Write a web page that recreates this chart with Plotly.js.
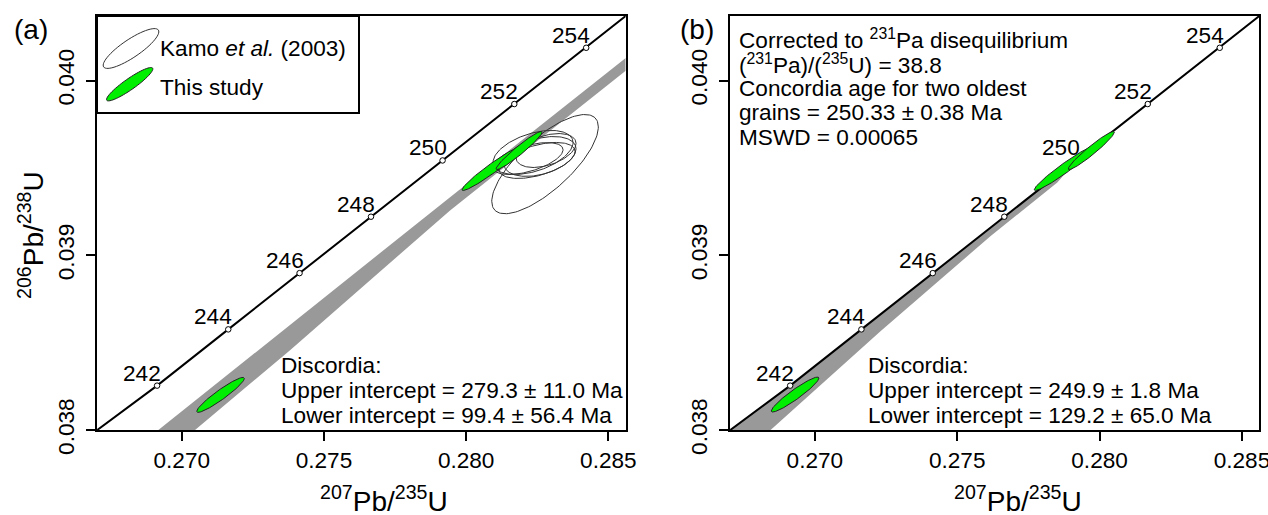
<!DOCTYPE html>
<html>
<head>
<meta charset="utf-8">
<script src="https://cdn.plot.ly/plotly-3.0.1.min.js"></script>
<style>html,body{margin:0;padding:0;background:#fff;}#chart{width:1268px;height:515px;}</style>
</head>
<body>
<div id="chart"></div>
<script>
// ---------------- DATA ----------------
const ages = [242, 244, 246, 248, 250, 252, 254];
const concX = [0.269133, 0.271635, 0.274142, 0.276654, 0.279171, 0.281693, 0.284221];
const concY = [0.038254, 0.038576, 0.038898, 0.039221, 0.039543, 0.039866, 0.040188];
const concLineX = [0.26703, 0.269133, 0.271635, 0.274142, 0.276654, 0.279171, 0.281693, 0.284221, 0.28561];
const concLineY = [0.03800, 0.038254, 0.038576, 0.038898, 0.039221, 0.039543, 0.039866, 0.040188, 0.04037];
const xTicks = [0.270, 0.275, 0.280, 0.285];
const xTickText = ['0.270', '0.275', '0.280', '0.285'];
const yTicks = [0.038, 0.039, 0.040];
const yTickText = ['0.038', '0.039', '0.040'];

// discordia error band, panel (a)
const bandA_upX = [0.269177, 0.279434, 0.28561];
const bandA_upY = [0.038000, 0.039333, 0.040130];
const bandA_loX = [0.270468, 0.273808, 0.279434, 0.28561];
const bandA_loY = [0.038000, 0.038457, 0.039257, 0.040057];
// discordia error band, panel (b) (upper edge follows concordia)
const bandB_upX = [0.26703, 0.269133, 0.271635, 0.274142, 0.276654, 0.27917];
const bandB_upY = [0.03800, 0.038254, 0.038576, 0.038898, 0.039221, 0.03954];
const bandB_loX = [0.268446, 0.272305, 0.276165, 0.278516, 0.27917];
const bandB_loY = [0.038000, 0.038566, 0.039109, 0.039417, 0.03954];

// Kamo et al. (2003) error ellipses: centre, half extents, correlation
const kamoCX = [0.282774, 0.282352, 0.282598, 0.282493, 0.282176, 0.282809];
const kamoCY = [0.039522, 0.039589, 0.039566, 0.039543, 0.039554, 0.039600];
const kamoAX = [0.001874, 0.001406, 0.001266, 0.001336, 0.001231, 0.001055];
const kamoAY = [0.000284, 0.000126, 0.000114, 0.000103, 0.0000914, 0.0000971];
const kamoRho = [0.75, 0.45, 0.38, 0.50, 0.55, 0.42];

// This study, uncorrected (a)
const studyA_CX = [0.271364, 0.280911, 0.281860];
const studyA_CY = [0.038201, 0.039497, 0.039600];
// This study, Pa-corrected (b)
const studyB_CX = [0.269305, 0.278761, 0.279710];
const studyB_CY = [0.038203, 0.039497, 0.039600];
const studyAX = [0.000837, 0.001055, 0.000809];
const studyAY = [0.000100, 0.000126, 0.000109];
const studyRho = [0.94, 0.965, 0.96];

// ---------------- HELPERS ----------------
const W = 1268, H = 515;
const FONT = 'Liberation Sans, Arial, Helvetica, sans-serif';
const FS = 22.6;
function ellipse(cx, cy, ax, ay, rho) {
  const xs = [], ys = [], n = 140, s = Math.sqrt(1 - rho * rho);
  for (let i = 0; i <= n; i++) {
    const t = 2 * Math.PI * i / n;
    xs.push(cx + ax * Math.cos(t));
    ys.push(cy + ay * (rho * Math.cos(t) + s * Math.sin(t)));
  }
  return [xs, ys];
}
const px = v => v / W, py = v => 1 - v / H;

const traces = [];
function addPanel(xa, ya, bandX, bandY) {
  traces.push({type: 'scatter', mode: 'lines', x: bandX, y: bandY, fill: 'toself',
    fillcolor: '#999999', line: {width: 0, color: '#999999'}, xaxis: xa, yaxis: ya, hoverinfo: 'skip'});
  traces.push({type: 'scatter', mode: 'lines', x: concLineX, y: concLineY,
    line: {color: 'black', width: 2}, xaxis: xa, yaxis: ya});
  traces.push({type: 'scatter', mode: 'markers', x: concX, y: concY,
    marker: {symbol: 'circle', size: 5.5, color: 'white', line: {color: 'black', width: 1}},
    xaxis: xa, yaxis: ya, cliponaxis: false});
}
addPanel('x', 'y', bandA_upX.concat(bandA_loX.slice().reverse()), bandA_upY.concat(bandA_loY.slice().reverse()));
addPanel('x2', 'y2', bandB_upX.concat(bandB_loX.slice().reverse()), bandB_upY.concat(bandB_loY.slice().reverse()));

for (let i = 0; i < kamoCX.length; i++) {
  const [ex, ey] = ellipse(kamoCX[i], kamoCY[i], kamoAX[i], kamoAY[i], kamoRho[i]);
  traces.push({type: 'scatter', mode: 'lines', x: ex, y: ey, line: {color: '#333333', width: 1},
    xaxis: 'x', yaxis: 'y'});
}
function addStudy(cxs, cys, xa, ya) {
  for (let i = 0; i < cxs.length; i++) {
    const [ex, ey] = ellipse(cxs[i], cys[i], studyAX[i], studyAY[i], studyRho[i]);
    traces.push({type: 'scatter', mode: 'lines', x: ex, y: ey, fill: 'toself', fillcolor: '#00ee00',
      line: {color: '#222222', width: 1}, xaxis: xa, yaxis: ya});
  }
}
addStudy(studyA_CX, studyA_CY, 'x', 'y');
addStudy(studyB_CX, studyB_CY, 'x2', 'y2');

// ---------------- LAYOUT ----------------
const yDom = [1 - 430 / H, 1 - 16 / H];
function xAx(dom, anchor) {
  return {domain: dom, range: [0.26702, 0.28561], anchor: anchor, tickvals: xTicks, ticktext: xTickText,
    ticks: 'outside', ticklen: 9, tickwidth: 2, tickcolor: 'black', showline: true, linewidth: 2,
    linecolor: 'black', mirror: true, showgrid: false, zeroline: false, ticklabelstandoff: 0,
    ticklabeloverflow: 'allow',
    tickfont: {family: FONT, size: FS, color: 'black'}};
}
function yAx(anchor) {
  return {domain: yDom, range: [0.038, 0.04037], anchor: anchor, tickvals: yTicks, ticktext: yTickText,
    tickangle: -90, ticks: 'outside', ticklen: 9, tickwidth: 2, tickcolor: 'black', showline: true,
    linewidth: 2, linecolor: 'black', mirror: true, showgrid: false, zeroline: false, ticklabelstandoff: 3,
    ticklabeloverflow: 'allow',
    tickfont: {family: FONT, size: FS, color: 'black'}};
}

const ann = [];
function T(x, y, text, o) {
  o = o || {};
  ann.push(Object.assign({xref: 'paper', yref: 'paper', x: px(x), y: py(y), text: text, showarrow: false,
    xanchor: 'left', yanchor: 'middle', font: {family: FONT, size: FS, color: 'black'}}, o));
}
// age labels
['x', 'x2'].forEach((xa, k) => {
  const ya = k === 0 ? 'y' : 'y2';
  for (let i = 0; i < ages.length; i++) {
    ann.push({xref: xa, yref: ya, x: concX[i], y: concY[i], text: String(ages[i]), showarrow: false,
      xanchor: 'right', yanchor: 'bottom', xshift: 6, yshift: -2,
      font: {family: FONT, size: FS, color: 'black'}});
  }
});
// panel letters
T(31, 29, '(a)', {xanchor: 'center', font: {family: FONT, size: 28, color: 'black'}});
T(697, 30, '(b)', {xanchor: 'center', font: {family: FONT, size: 28, color: 'black'}});
// axis titles
const xTitle = '<sup>207</sup>Pb/<sup>235</sup>U';
T(384, 499, xTitle, {xanchor: 'center', font: {family: FONT, size: 28, color: 'black'}});
T(1018, 499, xTitle, {xanchor: 'center', font: {family: FONT, size: 28, color: 'black'}});
T(31, 235, '<sup>206</sup>Pb/<sup>238</sup>U', {xanchor: 'center', textangle: -90, font: {family: FONT, size: 28, color: 'black'}});
// discordia text
T(279, 365, 'Discordia:');
T(279, 390.5, 'Upper intercept = 279.3 ± 11.0 Ma');
T(279, 415, 'Lower intercept = 99.4 ± 56.4 Ma');
T(866, 365, 'Discordia:');
T(866, 390.5, 'Upper intercept = 249.9 ± 1.8 Ma');
T(866, 415, 'Lower intercept = 129.2 ± 65.0 Ma');
// panel (b) notes
T(737, 39, 'Corrected to <sup>231</sup>Pa disequilibrium');
T(737, 64, '(<sup>231</sup>Pa)/(<sup>235</sup>U) = 38.8');
T(737, 88.5, 'Concordia age for two oldest');
T(737, 113, 'grains = 250.33 ± 0.38 Ma');
T(737, 137.5, 'MSWD = 0.00065');
// legend
T(158, 49, 'Kamo <i>et al.</i> (2003)');
T(158, 87, 'This study');

function ellPath(cx, cy, a, b, angDeg) {
  const th = angDeg * Math.PI / 180, n = 60; let d = '';
  for (let i = 0; i <= n; i++) {
    const t = 2 * Math.PI * i / n;
    const x = cx + a * Math.cos(t) * Math.cos(th) - b * Math.sin(t) * Math.sin(th);
    const y = cy - (a * Math.cos(t) * Math.sin(th) + b * Math.sin(t) * Math.cos(th));
    d += (i === 0 ? 'M' : 'L') + px(x).toFixed(5) + ',' + py(y).toFixed(5);
  }
  return d + 'Z';
}
const shapes = [
  {type: 'rect', xref: 'paper', yref: 'paper', x0: px(97), x1: px(359), y0: py(113), y1: py(16),
    line: {color: 'black', width: 2}, fillcolor: 'white', layer: 'above'},
  {type: 'path', xref: 'paper', yref: 'paper', path: ellPath(131, 48.5, 33, 9, 34), line: {color: '#333333', width: 1}, layer: 'above'},
  {type: 'path', xref: 'paper', yref: 'paper', path: ellPath(129.7, 84.2, 28, 5.5, 35), line: {color: '#222222', width: 1}, fillcolor: '#00ee00', layer: 'above'}
];

const layout = {
  width: W, height: H, margin: {l: 0, r: 0, t: 0, b: 0}, showlegend: false,
  paper_bgcolor: 'white', plot_bgcolor: 'white',
  xaxis: xAx([97 / W, 625.7 / W], 'y'), yaxis: yAx('x'),
  xaxis2: xAx([730 / W, 1259.3 / W], 'y2'), yaxis2: yAx('x2'),
  annotations: ann, shapes: shapes, hovermode: false
};
Plotly.newPlot('chart', traces, layout, {staticPlot: true});
</script>
</body>
</html>
